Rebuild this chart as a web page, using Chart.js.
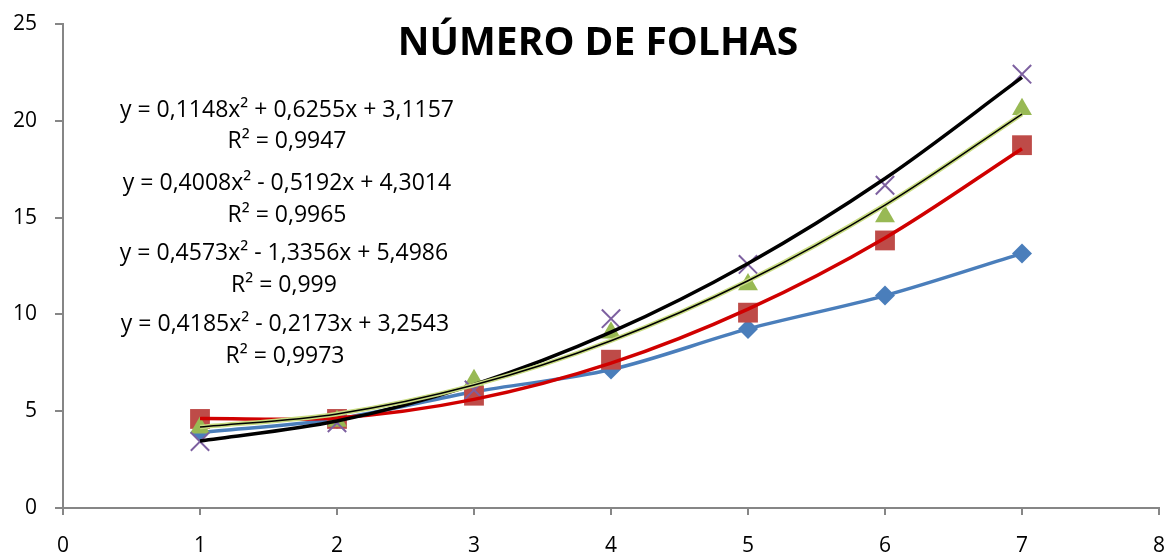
<!DOCTYPE html>
<html>
<head>
<meta charset="utf-8">
<script src="https://cdn.jsdelivr.net/npm/chart.js@4/dist/chart.umd.min.js"></script>
<style>
  html, body { margin: 0; padding: 0; background: #fff; }
  canvas { display: block; }
</style>
</head>
<body>
<canvas id="chart" width="1174" height="552"></canvas>
<script>
// dias (eixo x)
const days = [1, 2, 3, 4, 5, 6, 7];

// pontos medidos de cada série
const blueValues = [3.9, 4.6, 6.0, 7.15, 9.25, 10.97, 13.15];
const redValues = [4.6, 4.6, 5.8, 7.66, 10.09, 13.82, 18.74];
const greenValues = [4.15, 4.5, 6.6, 9.05, 11.54, 15.06, 20.6];
const purpleValues = [3.43, 4.4, 6.1, 9.78, 12.58, 16.67, 22.41];

const redTrend = [4.62, 4.65, 5.61, 7.48, 10.27, 13.95, 18.56];
const greenTrend = [4.18, 4.86, 6.35, 8.64, 11.74, 15.65, 20.35];
const blackTrend = [3.46, 4.49, 6.37, 9.08, 12.63, 17.02, 22.24];

const chartTitle = 'NÚMERO DE FOLHAS';
const equations = [
  'y = 0,1148x² + 0,6255x + 3,1157',
  'y = 0,4008x² - 0,5192x + 4,3014',
  'y = 0,4573x² - 1,3356x + 5,4986',
  'y = 0,4185x² - 0,2173x + 3,2543'
];
const rSquared = ['R² = 0,9947', 'R² = 0,9965', 'R² = 0,999', 'R² = 0,9973'];

const xTicks = [0, 1, 2, 3, 4, 5, 6, 7, 8];
const yTicks = [0, 5, 10, 15, 20, 25];

function toPoints(values) {
  return days.map(function (d, i) {
    return { x: d, y: values[i] };
  });
}

Chart.defaults.font.family = "'Open Sans', sans-serif";
Chart.defaults.color = '#000';

const axisGray = '#868686';

const textPlugin = {
  id: 'textPlugin',
  afterDraw: function (chart) {
    const ctx = chart.ctx;
    ctx.save();
    ctx.fillStyle = '#000';
    ctx.textAlign = 'center';
    ctx.textBaseline = 'alphabetic';
    ctx.font = "bold 39px 'Open Sans'";
    ctx.fillText(chartTitle, 598, 55);

    ctx.font = "23px 'Open Sans'";
    const eqBase = [117, 190, 260, 331];
    const r2Base = [148, 222, 292, 363];
    const centers = [287, 287, 284, 285];
    for (let i = 0; i < equations.length; i++) {
      ctx.fillText(equations[i], centers[i], eqBase[i]);
      ctx.fillText(rSquared[i], centers[i], r2Base[i]);
    }
    ctx.restore();
  }
};

const ctx = document.getElementById('chart').getContext('2d');
const chart = new Chart(ctx, {
  type: 'scatter',
  data: {
    datasets: [
      {
        label: 'tendência verde (centro)',
        data: toPoints(greenTrend),
        showLine: true,
        borderColor: '#000',
        borderWidth: 1.5,
        pointRadius: 0,
        tension: 0.33,
        order: 1
      },
      {
        label: 'tendência verde',
        data: toPoints(greenTrend),
        showLine: true,
        borderColor: '#c9dc82',
        borderWidth: 4.5,
        pointRadius: 0,
        tension: 0.33,
        order: 1
      },
      {
        label: 'tendência preta',
        data: toPoints(blackTrend),
        showLine: true,
        borderColor: '#000',
        borderWidth: 3.5,
        pointRadius: 0,
        tension: 0.33,
        order: 1
      },
      {
        label: 'tendência vermelha',
        data: toPoints(redTrend),
        showLine: true,
        borderColor: '#d00000',
        borderWidth: 3.5,
        pointRadius: 0,
        tension: 0.33,
        order: 1
      },
      {
        label: 'série 4',
        data: toPoints(purpleValues),
        pointStyle: 'crossRot',
        pointRadius: 13,
        borderColor: '#7d60a0',
        pointBorderWidth: 2,
        backgroundColor: '#7d60a0',
        order: 2
      },
      {
        label: 'série 3',
        data: toPoints(greenValues),
        pointStyle: 'triangle',
        pointRadius: 11.5,
        backgroundColor: '#98b954',
        borderColor: '#98b954',
        pointBorderWidth: 0,
        order: 2
      },
      {
        label: 'série 2',
        data: toPoints(redValues),
        pointStyle: 'rect',
        pointRadius: 14,
        backgroundColor: '#be4b48',
        borderColor: '#be4b48',
        pointBorderWidth: 0,
        order: 2
      },
      {
        label: 'série 1',
        data: toPoints(blueValues),
        showLine: true,
        pointStyle: 'rectRot',
        pointRadius: 10,
        backgroundColor: '#4a7ebb',
        borderColor: '#4a7ebb',
        borderWidth: 3.5,
        pointBorderWidth: 0,
        tension: 0.33,
        order: 2
      }
    ]
  },
  options: {
    responsive: false,
    animation: false,
    layout: { padding: { top: 24, right: 15, left: 0, bottom: 0 } },
    plugins: {
      legend: { display: false },
      tooltip: { enabled: false },
      title: { display: false }
    },
    scales: {
      x: {
        type: 'linear',
        min: 0,
        max: 8,
        afterBuildTicks: function (scale) {
          scale.ticks = xTicks.map(function (v) { return { value: v }; });
        },
        afterFit: function (scale) {
          scale.height = 44;
          scale.paddingLeft = 0;
          scale.paddingRight = 0;
        },
        ticks: { font: { size: 21 }, color: '#000', padding: 18, maxRotation: 0 },
        grid: { drawOnChartArea: false, color: axisGray, lineWidth: 2, tickLength: 7 },
        border: { color: axisGray, width: 2 }
      },
      y: {
        type: 'linear',
        min: 0,
        max: 25,
        afterBuildTicks: function (scale) {
          scale.ticks = yTicks.map(function (v) { return { value: v }; });
        },
        afterFit: function (scale) {
          scale.width = 63;
          scale.paddingTop = 0;
          scale.paddingBottom = 0;
        },
        ticks: { font: { size: 21 }, color: '#000', padding: 18 },
        grid: { drawOnChartArea: false, color: axisGray, lineWidth: 2, tickLength: 8 },
        border: { color: axisGray, width: 2 }
      }
    }
  },
  plugins: [textPlugin]
});
</script>
</body>
</html>
